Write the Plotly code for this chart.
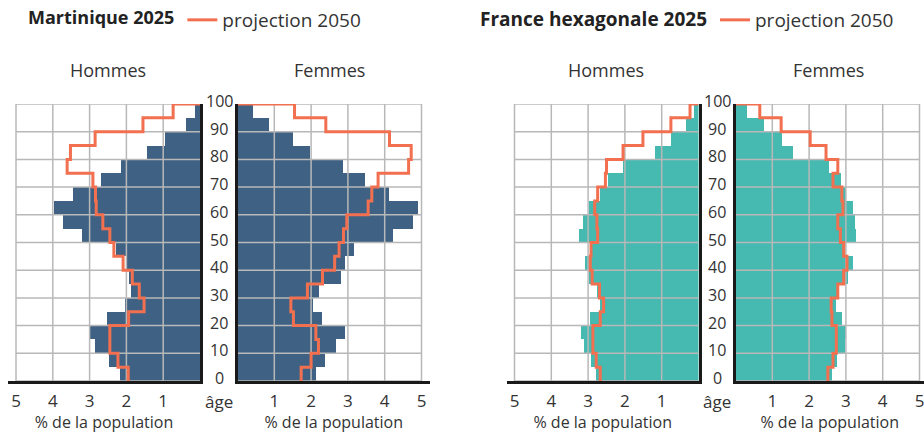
import plotly.graph_objects as go

# ---------------- data ----------------
age_groups = list(range(0, 100, 5))          # start of each 5-year age group
age_ticks = list(range(0, 101, 10))
pct_ticks = [1, 2, 3, 4, 5]
pct_labels = ["1", "2", "3", "4", "5"]

mq_men_2025 = [2.18, 2.48, 2.84, 2.98, 2.53, 2.05, 1.88, 1.93, 2.02, 2.29,
               3.21, 3.73, 3.98, 3.44, 2.70, 2.15, 1.43, 0.94, 0.38, 0.14]
mq_men_2050 = [1.95, 2.23, 2.45, 2.45, 1.94, 1.52, 1.65, 1.84, 2.09, 2.34,
               2.45, 2.64, 2.82, 2.84, 2.91, 3.61, 3.52, 2.85, 1.55, 0.73]
mq_women_2025 = [2.11, 2.36, 2.67, 2.90, 2.29, 2.05, 2.20, 2.79, 2.90, 3.14,
                 4.22, 4.75, 4.90, 4.09, 3.45, 2.84, 1.95, 1.49, 0.84, 0.40]
mq_women_2050 = [1.73, 2.00, 2.20, 2.13, 1.52, 1.45, 1.90, 2.31, 2.64, 2.76,
                 2.88, 2.97, 3.55, 3.65, 3.82, 4.65, 4.72, 4.13, 2.40, 1.55]

fr_men_2025 = [2.78, 2.91, 3.12, 3.18, 2.94, 2.67, 2.76, 2.98, 3.09, 2.94,
               3.25, 3.14, 2.98, 2.69, 2.46, 2.06, 1.18, 0.75, 0.34, 0.11]
fr_men_2050 = [2.67, 2.78, 2.87, 2.87, 2.67, 2.58, 2.69, 2.89, 2.94, 2.92,
               2.74, 2.76, 2.82, 2.74, 2.53, 2.50, 2.05, 1.51, 0.75, 0.23]
fr_women_2025 = [2.62, 2.75, 2.95, 2.98, 2.87, 2.71, 2.80, 3.05, 3.18, 2.95,
                 3.27, 3.23, 3.19, 2.98, 2.85, 2.53, 1.55, 1.24, 0.75, 0.30]
fr_women_2050 = [2.51, 2.65, 2.74, 2.74, 2.62, 2.60, 2.78, 2.94, 3.03, 2.94,
                 2.85, 2.78, 2.92, 2.89, 2.65, 2.78, 2.46, 2.03, 1.24, 0.66]

# ---------------- style ----------------
W, H = 924, 433
M_TOP, M_BOT = 104, 52
PLOT_H = H - M_TOP - M_BOT
SCALE = 36.8            # pixels per percentage point
FONT = "Open Sans"
TXT = "#333333"
BLUE = "#3F6284"
TEAL = "#46B9B0"
ORANGE = "#F2704F"
GRID = "#B8B8B8"
AXIS = "#1A1A1A"

def px_x(p):
    return p / W

def px_y(p):
    return (H - M_BOT - p) / PLOT_H

fig = go.Figure()

# panels: (name, xaxis id, left px, right px, reversed, bars, proj, colour, legend, show legend)
panels = [
    ("mq_h", "x", 8, 200, True, mq_men_2025, mq_men_2050, BLUE, "legend", True),
    ("mq_f", "x2", 237.5, 430, False, mq_women_2025, mq_women_2050, BLUE, "legend", False),
    ("fr_h", "x3", 507, 698.5, True, fr_men_2025, fr_men_2050, TEAL, "legend2", True),
    ("fr_f", "x4", 735.5, 924, False, fr_women_2025, fr_women_2050, TEAL, "legend2", False),
]

layout_axes = {}
for i, (name, xid, lpx, rpx, rev, bars, proj, col, leg, show) in enumerate(panels):
    yid = "y" if i == 0 else "y%d" % (i + 1)
    # bars (2025)
    fig.add_trace(go.Bar(
        x=bars, y=[a + 2.5 for a in age_groups], width=5, orientation="h",
        marker=dict(color=col, line=dict(width=0)), xaxis=xid, yaxis=yid,
        showlegend=False, hoverinfo="x+y",
    ))
    # grid drawn over the bars
    gx, gy = [], []
    for t in pct_ticks:
        gx += [t, t, None]
        gy += [0, 100, None]
    for a in age_ticks:
        gx += [0, max(pct_ticks), None]
        gy += [a, a, None]
    fig.add_trace(go.Scatter(
        x=gx, y=gy, mode="lines", line=dict(color=GRID, width=1.5),
        xaxis=xid, yaxis=yid, showlegend=False, hoverinfo="skip",
    ))
    # projection 2050 step line
    fig.add_trace(go.Scatter(
        x=proj + [0], y=age_groups + [100], mode="lines", line_shape="vh",
        line=dict(color=ORANGE, width=3), name="projection 2050",
        xaxis=xid, yaxis=yid, legend=leg, showlegend=show,
        hoverinfo="x+y",
    ))

    span = (rpx - lpx) / SCALE
    xrange = [span, 0] if rev else [0, span]
    xkey = "xaxis" if xid == "x" else "xaxis%s" % xid[1:]
    ykey = "yaxis" if i == 0 else "yaxis%d" % (i + 1)
    layout_axes[xkey] = dict(
        domain=[px_x(lpx), min(px_x(rpx), 1)], range=xrange, anchor=yid,
        tickvals=pct_ticks, ticktext=pct_labels, ticks="", showgrid=False,
        zeroline=False, showline=True, linecolor=AXIS, linewidth=3,
        tickfont=dict(family=FONT, size=17, color=TXT),
        ticklabelstandoff=3, ticklabeloverflow="allow",
        title=dict(text="% de la population", font=dict(family=FONT, size=16, color=TXT),
                   standoff=5),
        fixedrange=True,
    )
    layout_axes[ykey] = dict(
        domain=[0, 1], range=[0, 100], anchor=xid,
        side="right" if rev else "left", showticklabels=False, ticks="",
        showgrid=False, zeroline=False, showline=True, linecolor=AXIS, linewidth=3,
        fixedrange=True,
    )

annotations = []
# panel sub-titles
for label, cx in [("Hommes", 108), ("Femmes", 329), ("Hommes", 606), ("Femmes", 828)]:
    annotations.append(dict(text=label, x=px_x(cx), y=px_y(70), xref="paper", yref="paper",
                            showarrow=False, xanchor="center", yanchor="middle",
                            font=dict(family=FONT, size=18, color=TXT)))
# central age scales
for cx in (219, 717):
    for a in age_ticks:
        annotations.append(dict(text=str(a), x=px_x(cx), y=a / 100, xref="paper", yref="paper",
                                showarrow=False, xanchor="center", yanchor="middle", yshift=3,
                                font=dict(family=FONT, size=16, color=TXT)))
    annotations.append(dict(text="âge", x=px_x(cx), y=px_y(401), xref="paper", yref="paper",
                            showarrow=False, xanchor="center", yanchor="middle",
                            font=dict(family=FONT, size=17, color=TXT)))

legend_common = dict(orientation="h", xanchor="left", yanchor="middle",
                     bgcolor="rgba(0,0,0,0)", font=dict(family=FONT, size=19, color=TXT),
                     itemwidth=30, tracegroupgap=0)

fig.update_layout(
    width=W, height=H,
    margin=dict(l=0, r=0, t=M_TOP, b=M_BOT),
    paper_bgcolor="white", plot_bgcolor="white",
    bargap=0, barmode="overlay",
    font=dict(family=FONT, color=TXT),
    annotations=annotations,
    legend=dict(title=dict(text="<b>Martinique 2025</b>", side="left",
                           font=dict(family=FONT, size=18, color="#222222")),
                x=px_x(26), y=px_y(20), **legend_common),
    legend2=dict(title=dict(text="<b>France hexagonale 2025</b>", side="left",
                            font=dict(family=FONT, size=19, color="#222222")),
                 x=px_x(478), y=px_y(20), **legend_common),
    **layout_axes,
)

fig.write_html("out.html", config={"displayModeBar": False},
               post_script="document.body.style.margin='0';document.body.style.overflow='hidden';")
